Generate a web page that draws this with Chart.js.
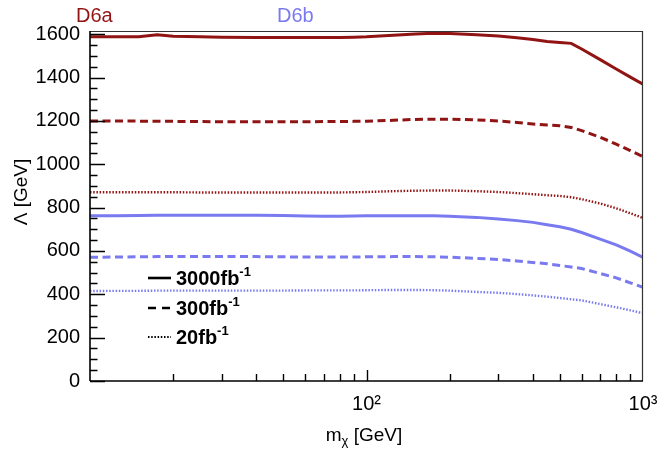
<!DOCTYPE html>
<html>
<head>
<meta charset="utf-8">
<script src="https://cdn.jsdelivr.net/npm/chart.js@4/dist/chart.umd.min.js"></script>
<style>
  html, body { margin: 0; padding: 0; background: #fff; }
  #wrap { width: 659px; height: 452px; }
</style>
</head>
<body>
<div id="wrap"><canvas id="c" width="659" height="452"></canvas></div>
<script>
// Dark-matter mass points (GeV)
const masses = [10, 12.5, 15, 17.5, 20, 25, 30, 40, 50, 60, 70, 80, 90, 100, 125, 150, 175, 200,
                250, 300, 350, 400, 450, 500, 550, 600, 700, 800, 900, 1000];

// Lower limits on Lambda (GeV), operator D6a
const d6a3000 = [1588, 1588, 1589, 1598, 1591, 1588, 1586, 1585, 1585, 1585, 1585, 1585, 1586, 1588, 1595, 1601, 1605, 1604,
                 1598, 1592, 1584, 1576, 1567, 1562, 1558, 1532, 1483, 1440, 1402, 1369];
const d6a300  = [1200, 1200, 1199, 1199, 1198, 1197, 1196, 1196, 1196, 1196, 1197, 1197, 1198, 1199, 1203, 1207, 1208, 1208,
                 1205, 1200, 1193, 1186, 1181, 1178, 1170, 1155, 1125, 1093, 1063, 1035];
const d6a20   = [871, 871, 871, 871, 871, 870, 870, 870, 870, 870, 870, 870, 871, 872, 876, 878, 879, 879,
                 876, 872, 867, 862, 857, 854, 848, 839, 819, 797, 774, 752];

// Lower limits on Lambda (GeV), operator D6b
const d6b3000 = [762, 763, 764, 765, 765, 765, 765, 765, 764, 761, 760, 760, 761, 762, 762, 762, 762, 760,
                 755, 748, 740, 732, 721, 712, 700, 685, 655, 628, 599, 570];
const d6b300  = [571, 572, 573, 574, 575, 575, 575, 574, 573, 572, 572, 572, 572, 573, 574, 574, 573, 571,
                 566, 561, 554, 547, 541, 533, 526, 519, 496, 476, 453, 432];
const d6b20   = [415, 416, 416, 417, 417, 417, 417, 417, 417, 418, 418, 418, 418, 419, 420, 420, 419, 417,
                 411, 407, 401, 395, 389, 383, 377, 372, 355, 340, 326, 313];

// Axis ticks
const yMajorTicks = [0, 200, 400, 600, 800, 1000, 1200, 1400, 1600];
const xLabelled = { 100: '10\u00B2', 1000: '10\u00B3' };

const RED = 'rgb(145,20,20)';
const BLUE = 'rgb(122,122,240)';
const FONT = '"Liberation Sans", Arial, Helvetica, sans-serif';

const SOLID = [];
const DASHED = [8, 4.5];
const DOTTED = [1.5, 1.7];

function pts(vals) { return masses.map((m, i) => ({ x: m, y: vals[i] })); }

function ds(label, vals, color, dash, width) {
  return {
    label, data: pts(vals), borderColor: color, backgroundColor: color,
    borderWidth: width, borderDash: dash, pointRadius: 0, tension: 0, fill: false
  };
}

// Inward ROOT-style ticks, frame and annotations
const framePlugin = {
  id: 'frame',
  afterDatasetsDraw(chart) {
    const ctx = chart.ctx;
    const { left, right, top, bottom } = chart.chartArea;
    const xs = chart.scales.x, ys = chart.scales.y;
    ctx.save();
    // top & right frame
    ctx.strokeStyle = '#333';
    ctx.lineWidth = 1.2;
    ctx.beginPath();
    ctx.moveTo(left, top + 0.5); ctx.lineTo(right, top + 0.5);
    ctx.moveTo(right - 0.5, top); ctx.lineTo(right - 0.5, bottom);
    ctx.stroke();
    // left & bottom axes
    ctx.strokeStyle = '#000';
    ctx.lineWidth = 1.6;
    ctx.beginPath();
    ctx.moveTo(left, top); ctx.lineTo(left, bottom);
    ctx.moveTo(left, bottom); ctx.lineTo(right, bottom);
    ctx.stroke();
    // y ticks
    ctx.lineWidth = 1.4;
    ctx.beginPath();
    for (let v = 0; v <= 1600; v += 50) {
      const y = Math.round(ys.getPixelForValue(v)) + 0.5;
      const len = yMajorTicks.includes(v) ? 15 : 7.5;
      ctx.moveTo(left, y); ctx.lineTo(left + len, y);
    }
    // x ticks
    for (const dec of [10, 100]) {
      for (let m = 1; m <= 9; m++) {
        const v = dec * m;
        if (v === 10) continue;
        const x = Math.round(xs.getPixelForValue(v)) + 0.5;
        const len = m === 1 ? 11 : 7;
        ctx.moveTo(x, bottom); ctx.lineTo(x, bottom - len);
      }
    }
    ctx.stroke();
    ctx.restore();
  },
  afterDraw(chart) {
    const ctx = chart.ctx;
    ctx.save();
    ctx.textBaseline = 'alphabetic';
    // operator labels
    ctx.font = '20px ' + FONT;
    ctx.textAlign = 'left';
    ctx.fillStyle = RED;
    ctx.fillText('D6a', 76, 22);
    ctx.fillStyle = BLUE;
    ctx.fillText('D6b', 277, 22);

    // y axis title
    ctx.fillStyle = '#000';
    ctx.save();
    ctx.translate(27, 192);
    ctx.rotate(-Math.PI / 2);
    ctx.textAlign = 'center';
    ctx.font = '19px ' + FONT;
    ctx.fillText('\u039B [GeV]', 0, 0);
    ctx.restore();

    // x axis title with subscript chi
    ctx.font = '19px ' + FONT;
    const wM = ctx.measureText('m').width;
    ctx.font = '13px ' + FONT;
    const wChi = ctx.measureText('\u03C7').width;
    ctx.font = '19px ' + FONT;
    const wRest = ctx.measureText(' [GeV]').width;
    let x0 = 364 - (wM + wChi + wRest) / 2;
    ctx.textAlign = 'left';
    ctx.fillText('m', x0, 441);
    ctx.font = '13px ' + FONT;
    ctx.fillText('\u03C7', x0 + wM, 445);
    ctx.font = '19px ' + FONT;
    ctx.fillText(' [GeV]', x0 + wM + wChi, 441);

    // legend
    const rows = [
      { dash: SOLID, text: '3000fb', y: 278 },
      { dash: [8, 6], text: '300fb', y: 308 },
      { dash: DOTTED, text: '20fb', y: 337 }
    ];
    for (const r of rows) {
      ctx.strokeStyle = '#000';
      ctx.lineWidth = r.dash === DOTTED ? 2 : 2.6;
      ctx.setLineDash(r.dash);
      ctx.beginPath();
      ctx.moveTo(148, r.y); ctx.lineTo(171, r.y);
      ctx.stroke();
      ctx.setLineDash([]);
      ctx.font = 'bold 20px ' + FONT;
      ctx.fillStyle = '#000';
      ctx.fillText(r.text, 176, r.y + 7);
      const w = ctx.measureText(r.text).width;
      ctx.font = 'bold 13px ' + FONT;
      ctx.fillText('-1', 176 + w, r.y - 2);
    }
    ctx.restore();
  }
};

new Chart(document.getElementById('c'), {
  type: 'line',
  data: {
    datasets: [
      ds('D6a 3000', d6a3000, RED, SOLID, 3),
      ds('D6a 300', d6a300, RED, DASHED, 3),
      ds('D6a 20', d6a20, RED, DOTTED, 2.4),
      ds('D6b 3000', d6b3000, BLUE, SOLID, 3),
      ds('D6b 300', d6b300, BLUE, DASHED, 3),
      ds('D6b 20', d6b20, BLUE, DOTTED, 2.4)
    ]
  },
  options: {
    responsive: false,
    animation: false,
    devicePixelRatio: 1,
    layout: { padding: { top: 31, right: 16, left: 0, bottom: 0 } },
    plugins: { legend: { display: false }, tooltip: { enabled: false } },
    scales: {
      x: {
        type: 'logarithmic',
        min: 10, max: 1000,
        position: 'bottom',
        grid: { display: false, drawTicks: false },
        border: { display: false },
        ticks: {
          autoSkip: false, maxRotation: 0, minRotation: 0,
          padding: 11, color: '#000',
          font: { size: 20, family: FONT },
          callback: (v) => xLabelled[v] || ''
        },
        afterFit: (s) => { s.height = 71; s.paddingLeft = 0; s.paddingRight = 0; }
      },
      y: {
        type: 'linear',
        min: 0, max: 1615,
        grid: { display: false, drawTicks: false },
        border: { display: false },
        afterBuildTicks: (s) => { s.ticks = yMajorTicks.map(v => ({ value: v })); },
        ticks: {
          padding: 10, color: '#000',
          font: { size: 20, family: FONT },
          callback: (v) => String(v)
        },
        afterFit: (s) => { s.width = 90; s.paddingTop = 0; s.paddingBottom = 0; }
      }
    }
  },
  plugins: [framePlugin]
});
</script>
</body>
</html>
